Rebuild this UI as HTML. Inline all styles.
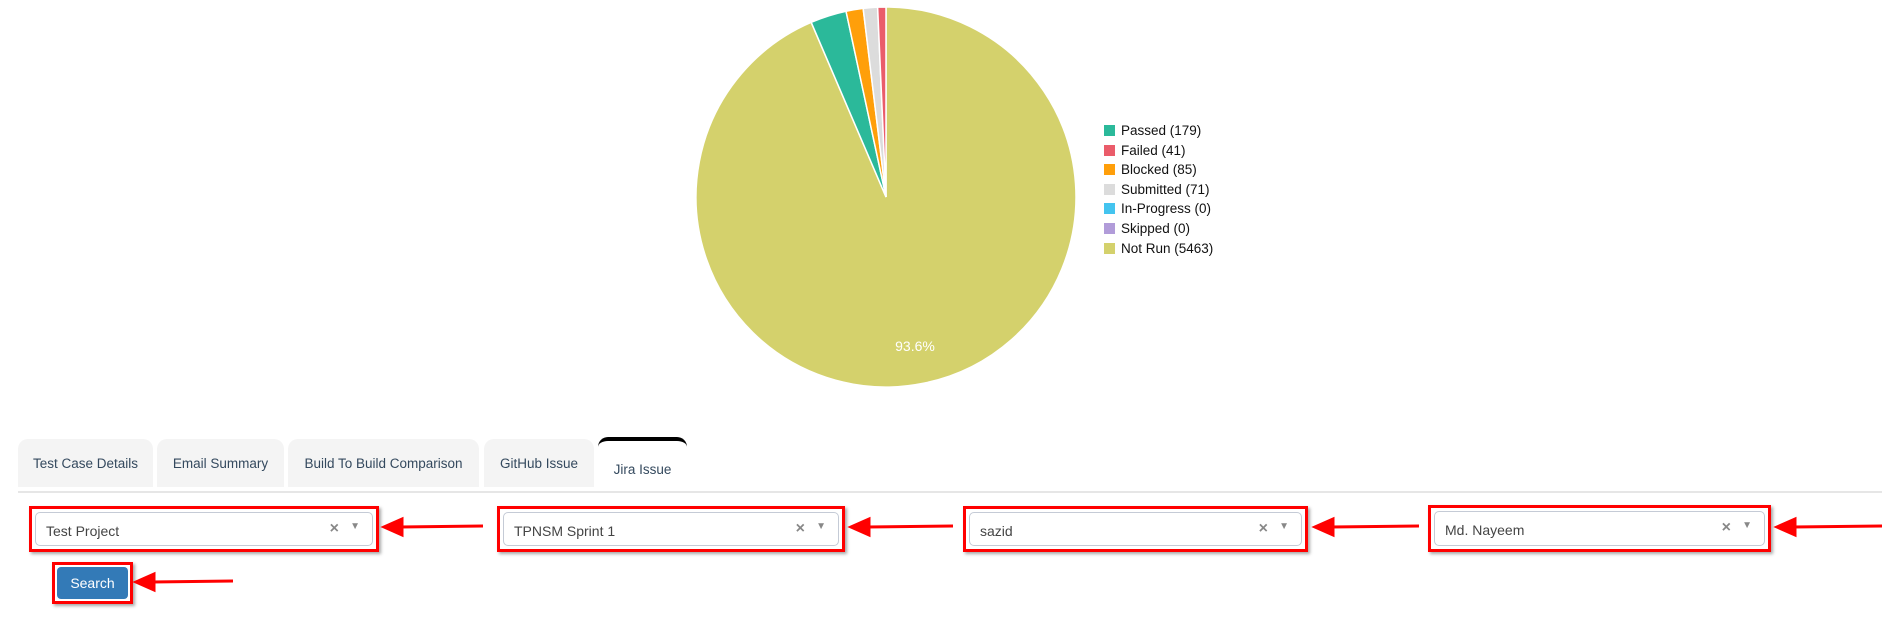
<!DOCTYPE html>
<html><head><meta charset="utf-8">
<style>
body{margin:0;width:1892px;height:623px;background:#fff;position:relative;overflow:hidden;font-family:"Liberation Sans",sans-serif}
.abs{position:absolute}
.tab{position:absolute;top:439px;height:48px;background:#f4f4f4;border-radius:10px 10px 0 0;font-size:13.5px;color:#34495e;display:flex;align-items:center;justify-content:center;font-weight:normal}
.tab.active{background:#fff;border-top:4px solid #000;height:52px;top:437px;align-items:center;padding-top:8px;box-sizing:border-box}
.redbox{position:absolute;border:3px solid #f00;box-sizing:border-box;box-shadow:2px 2px 3px rgba(0,0,0,.35)}
.sel{position:absolute;left:3px;right:3px;top:3px;bottom:3px;border:1px solid #c5cbd6;border-radius:5px;background:#fff;font-size:14px;color:#444}
.sel .t{position:absolute;left:10px;top:10px}
.sel .x{position:absolute;right:33px;top:7px;color:#888;font-size:16px;font-weight:bold}
.sel .a{position:absolute;right:12px;top:8px;color:#888;font-size:10px}
.leg{position:absolute;left:1104px;font-size:13.5px;color:#111}
.leg span{display:inline-block;width:11px;height:11px;margin-right:6px;vertical-align:-1px}
</style></head><body>
<svg class="abs" style="left:0;top:0" width="1892" height="400">
<g id="pie"></g>
<text x="915" y="351" fill="#fff" font-size="14" text-anchor="middle" font-family="Liberation Sans">93.6%</text>
</svg>
<div id="legend"></div>

<div class="abs" style="left:18px;top:491px;width:1864px;height:2px;background:#e6e6e6"></div>
<div class="tab" style="left:18px;width:135px">Test Case Details</div>
<div class="tab" style="left:157px;width:127px">Email Summary</div>
<div class="tab" style="left:288px;width:191px">Build To Build Comparison</div>
<div class="tab" style="left:484px;width:110px">GitHub Issue</div>
<div class="tab active" style="left:598px;width:89px">Jira Issue</div>

<div class="redbox" style="left:29px;top:506px;width:350px;height:46px"><div class="sel"><span class="t">Test Project</span><span class="x">×</span><span class="a">▼</span></div></div>
<div class="redbox" style="left:497px;top:506px;width:348px;height:46px"><div class="sel"><span class="t">TPNSM Sprint 1</span><span class="x">×</span><span class="a">▼</span></div></div>
<div class="redbox" style="left:963px;top:506px;width:345px;height:46px"><div class="sel"><span class="t">sazid</span><span class="x">×</span><span class="a">▼</span></div></div>
<div class="redbox" style="left:1428px;top:505px;width:343px;height:47px"><div class="sel"><span class="t">Md. Nayeem</span><span class="x">×</span><span class="a">▼</span></div></div>

<div class="redbox" style="left:52px;top:562px;width:81px;height:42px">
<div class="abs" style="left:2px;top:2px;right:2px;bottom:2px;background:#337ab7;border-radius:4px;color:#fff;font-size:14px;display:flex;align-items:center;justify-content:center">Search</div></div>

<svg class="abs" style="left:0;top:500px" width="1892" height="123">
<g fill="#f00" stroke="#f00" stroke-width="3">
<line x1="400" y1="27" x2="483" y2="26"/><polygon points="384,27 402,19 402,35"/>
<line x1="867" y1="27" x2="953" y2="26"/><polygon points="851,27 869,19 869,35"/>
<line x1="1331" y1="27" x2="1419" y2="26"/><polygon points="1315,27 1333,19 1333,35"/>
<line x1="1793" y1="27" x2="1882" y2="26"/><polygon points="1777,27 1795,19 1795,35"/>
<line x1="152" y1="82" x2="233" y2="81"/><polygon points="136,82 154,74 154,90"/>
</g></svg>

<script>
const labels=["Passed","Failed","Blocked","Submitted","In-Progress","Skipped","Not Run"];
const counts=[179,41,85,71,0,0,5463];
const colors=["#2bb99a","#ea5c6a","#ff9f0a","#dcdcdc","#44c4ef","#b19cd9","#d4d16c"];
const drawOrder=[6,4,5,0,2,3,1];
const cx=886,cy=197,r=190;
const total=counts.reduce((a,b)=>a+b,0);
const g=document.getElementById('pie');
let ang=0;
drawOrder.forEach(i=>{
  const v=counts[i];if(v<=0)return;
  const a0=ang,a1=ang+v/total*2*Math.PI;ang=a1;
  const p=a=>[cx+r*Math.sin(a),cy-r*Math.cos(a)];
  const [x0,y0]=p(a0),[x1,y1]=p(a1);
  const path=document.createElementNS('http://www.w3.org/2000/svg','path');
  path.setAttribute('d',`M${cx},${cy}L${x0},${y0}A${r},${r} 0 ${a1-a0>Math.PI?1:0} 1 ${x1},${y1}Z`);
  path.setAttribute('fill',colors[i]);path.setAttribute('stroke','#fff');path.setAttribute('stroke-width','1.5');
  
  
  g.appendChild(path);
});
const lg=document.getElementById('legend');
labels.forEach((l,i)=>{
  const d=document.createElement('div');d.className='leg';d.style.top=(123+i*19.6)+'px';
  d.innerHTML=`<span style="background:${colors[i]}"></span>${l} (${counts[i]})`;
  
  
  lg.appendChild(d);
});
</script>
</body></html>
